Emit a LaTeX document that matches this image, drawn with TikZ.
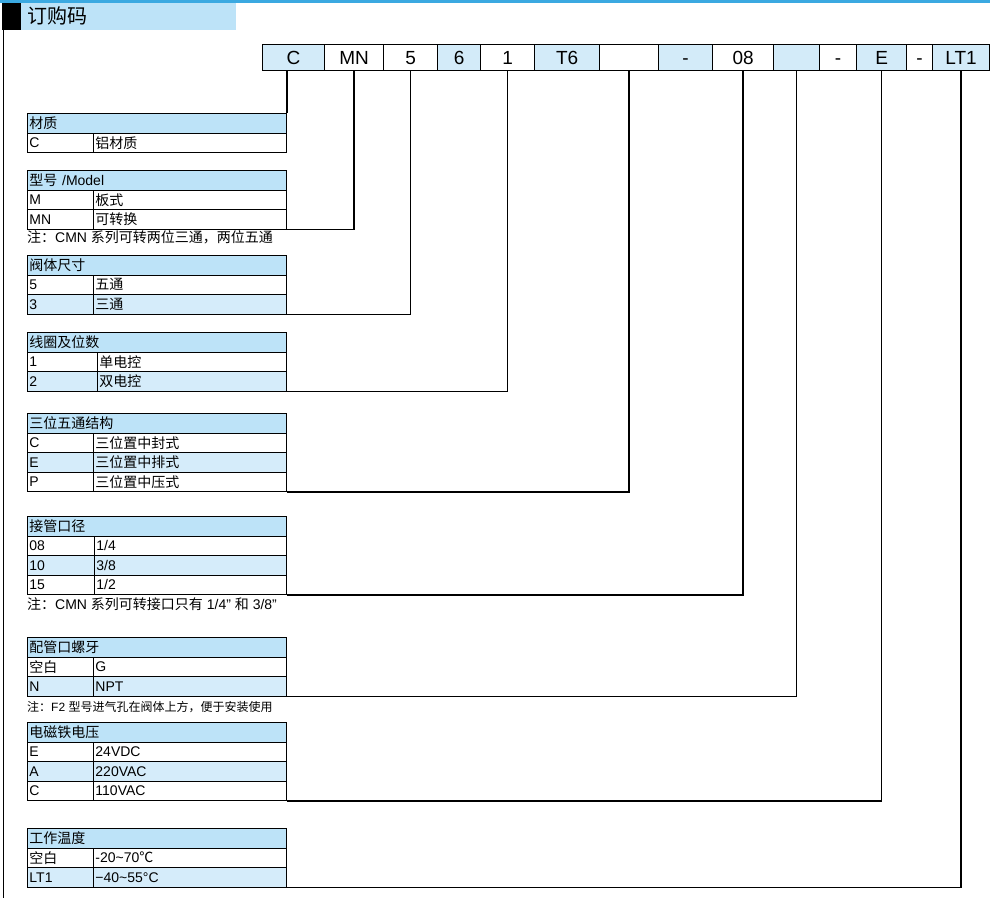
\documentclass[tikz,border=0pt]{standalone}
\usepackage{fontspec}
\setmainfont{Liberation Sans}
\newfontfamily\cjk{Noto Sans CJK SC}
\newcommand\zh[1]{{\cjk #1}}
\definecolor{hdrblue}{HTML}{BDE3F8}
\definecolor{rowblue}{HTML}{D5ECFA}
\definecolor{codeblue}{HTML}{D3EBF9}
\definecolor{topline}{HTML}{3BA9E1}
\newcommand\cbox[5]{\node[codebox,fill=#4,minimum width=#3pt] (#1) at (#2,44) {#5};}
\newcommand\thd[3]{\node[cell,fill=hdrblue,text width=255pt] (#1) at (27,#2) {#3};}
\newcommand\trow[6][93]{%
  \pgfmathsetmacro\kwid{#1-27-4}\pgfmathsetmacro\vwid{286-#1-4}%
  \node[cell,fill=#4,text width=\kwid pt] (#2k) at (27,#3) {#5};
  \node[cell,fill=#4,text width=\vwid pt] (#2v) at (#1,#3) {#6};}
\begin{document}
\begin{tikzpicture}[x=1pt,y=-1pt,
  codebox/.style={draw=black,line width=1.2pt,minimum height=26pt,inner sep=0pt,text height=13.5pt,text depth=0pt,anchor=north west,font=\fontsize{19}{20}\selectfont},
  cell/.style={draw=black,line width=0.9pt,anchor=north west,inner xsep=2pt,inner ysep=0pt,minimum height=19.5pt,align=left,font=\fontsize{14}{15}\selectfont},
  note/.style={anchor=west,inner sep=0pt,font=\fontsize{14}{15}\selectfont},
  conn/.style={draw=black,line width=1.6pt,line join=miter}]
\useasboundingbox (0,0) rectangle (990,898);
% header
\fill[topline] (0,0) rectangle (990,2.5);
\fill[black] (2,2.5) rectangle (21,30);
\fill[hdrblue] (21,2.5) rectangle (236,30);
\draw[line width=1.6pt] (3.5,30) -- (3.5,898);
\node[anchor=west,inner sep=0pt,font=\cjk\fontsize{20}{21}\selectfont] (title) at (27,16) {订购码};
% code boxes
\cbox{bC}{262}{62}{codeblue}{C}
\cbox{bMN}{324}{59}{white}{MN}
\cbox{bF}{383}{54}{white}{5}
\cbox{bS}{437}{43}{codeblue}{6}
\cbox{bO}{480}{54}{white}{1}
\cbox{bT}{534}{65}{codeblue}{T6}
\cbox{bX}{599}{59}{white}{}
\cbox{bDa}{658}{54}{codeblue}{-}
\cbox{bP}{712}{61}{white}{08}
\cbox{bY}{773}{46}{codeblue}{}
\cbox{bDb}{819}{37}{white}{-}
\cbox{bE}{856}{50}{codeblue}{E}
\cbox{bDc}{906}{26}{white}{-}
\cbox{bL}{932}{57}{codeblue}{LT1}
% T1
\thd{ta}{113}{\zh{材质}}
\trow{taA}{132.5}{white}{C}{\zh{铝材质}}
% T2
\thd{tb}{170}{\zh{型号} /Model}
\trow{tbA}{189.5}{white}{M}{\zh{板式}}
\trow{tbB}{209}{white}{MN}{\zh{可转换}}
\node[note] (na) at (27,237) {\zh{注：}CMN \zh{系列可转两位三通，两位五通}};
% T3
\thd{tc}{255}{\zh{阀体尺寸}}
\trow{tcA}{274.5}{white}{5}{\zh{五通}}
\trow{tcB}{294}{rowblue}{3}{\zh{三通}}
% T4
\thd{td}{332}{\zh{线圈及位数}}
\trow[97]{tdA}{351.5}{white}{1}{\zh{单电控}}
\trow[97]{tdB}{371}{rowblue}{2}{\zh{双电控}}
% T5
\thd{te}{413}{\zh{三位五通结构}}
\trow{teA}{432.5}{white}{C}{\zh{三位置中封式}}
\trow{teB}{452}{rowblue}{E}{\zh{三位置中排式}}
\trow{teC}{471.5}{white}{P}{\zh{三位置中压式}}
% T6
\thd{tf}{516}{\zh{接管口径}}
\trow[94]{tfA}{535.5}{white}{08}{1/4}
\trow[94]{tfB}{555}{rowblue}{10}{3/8}
\trow[94]{tfC}{574.5}{white}{15}{1/2}
\node[note] (nb) at (27,604) {\zh{注：}CMN \zh{系列可转接口只有} 1/4" \zh{和} 3/8"};
% T7
\thd{tg}{637}{\zh{配管口螺牙}}
\trow{tgA}{656.5}{white}{\zh{空白}}{G}
\trow{tgB}{676}{rowblue}{N}{NPT}
\node[note,font=\fontsize{12}{13}\selectfont] (nc) at (27,707) {\zh{注：}F2 \zh{型号进气孔在阀体上方，便于安装使用}};
% T8
\thd{th}{722}{\zh{电磁铁电压}}
\trow{thA}{741.5}{white}{E}{24VDC}
\trow{thB}{761}{rowblue}{A}{220VAC}
\trow{thC}{780.5}{white}{C}{110VAC}
% T9
\thd{ti}{828}{\zh{工作温度}}
\trow{tiA}{847.5}{white}{\zh{空白}}{-20\textasciitilde 70\zh{℃}}
\trow{tiB}{867}{rowblue}{LT1}{−40\textasciitilde 55°C}
% connectors
\draw[conn] (ta.north east |- bC.south) -- (ta.north east);
\draw[conn] (bMN.south) |- (tbBv.south east);
\draw[conn] (bF.south) |- (tcBv.south east);
\draw[conn] (bO.south) |- (tdBv.south east);
\draw[conn] (bX.south) |- (teCv.south east);
\draw[conn] (bP.south) |- (tfCv.south east);
\draw[conn] (bY.south) |- (tgBv.south east);
\draw[conn] (bE.south) |- (thCv.south east);
\draw[conn] (bL.south) |- (tiBv.south east);
\end{tikzpicture}
\end{document}
